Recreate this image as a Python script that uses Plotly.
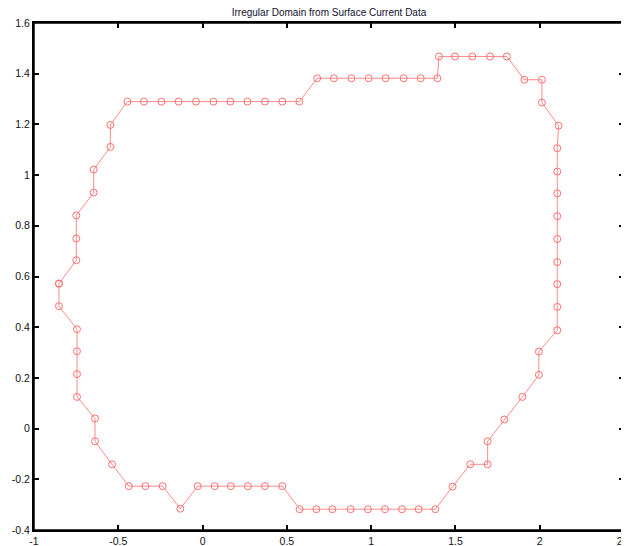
import plotly.graph_objects as go

x_vals = [-0.852, -0.749, -0.749, -0.749, -0.646, -0.646, -0.547, -0.547,
          -0.446, -0.348, -0.244, -0.142, -0.039, 0.064, 0.165, 0.266, 0.370, 0.473, 0.574,
          0.680, 0.779, 0.883, 0.985, 1.086, 1.193, 1.294, 1.393,
          1.402, 1.497, 1.600, 1.705, 1.805,
          1.909, 2.013, 2.013, 2.112,
          2.104, 2.104, 2.104, 2.104, 2.104, 2.104, 2.104, 2.104, 2.104,
          1.995, 1.995, 1.897, 1.790, 1.691, 1.691, 1.588, 1.483,
          1.381, 1.282, 1.183, 1.082, 0.981, 0.878, 0.770, 0.675, 0.576,
          0.473, 0.370, 0.269, 0.168, 0.072, -0.029,
          -0.132, -0.237, -0.339, -0.438, -0.537, -0.638, -0.638,
          -0.745, -0.745, -0.745, -0.745, -0.852, -0.852]
y_vals = [0.572, 0.664, 0.750, 0.841, 0.931, 1.022, 1.111, 1.198,
          1.290, 1.290, 1.290, 1.290, 1.290, 1.290, 1.290, 1.290, 1.290, 1.290, 1.290,
          1.382, 1.382, 1.382, 1.382, 1.382, 1.382, 1.382, 1.382,
          1.468, 1.468, 1.468, 1.468, 1.468,
          1.376, 1.376, 1.286, 1.195,
          1.106, 1.014, 0.928, 0.838, 0.748, 0.657, 0.570, 0.480, 0.388,
          0.304, 0.212, 0.125, 0.036, -0.050, -0.141, -0.141, -0.229,
          -0.318, -0.318, -0.318, -0.318, -0.318, -0.318, -0.318, -0.318, -0.318,
          -0.227, -0.227, -0.227, -0.227, -0.227, -0.227,
          -0.316, -0.227, -0.227, -0.227, -0.141, -0.050, 0.040,
          0.125, 0.215, 0.305, 0.392, 0.483, 0.572]

title_text = "Irregular Domain from Surface Current Data"
x_ticks = [-1, -0.5, 0, 0.5, 1, 1.5, 2, 2.5]
y_ticks = [-0.4, -0.2, 0, 0.2, 0.4, 0.6, 0.8, 1, 1.2, 1.4, 1.6]

fig = go.Figure()
fig.add_trace(go.Scatter(
    x=x_vals, y=y_vals, mode="lines+markers",
    line=dict(color="#ff8a8a", width=1),
    marker=dict(symbol="circle-open", size=7, color="#ff7070", line=dict(width=1)),
    showlegend=False,
))

axis_common = dict(
    showgrid=False, zeroline=False, showline=True, linecolor="rgb(0,0,0)", linewidth=2,
    mirror="allticks", ticks="inside", ticklen=5, tickwidth=2, tickcolor="rgb(0,0,0)",
    automargin=False, ticklabeloverflow="allow",
    tickfont=dict(family="Liberation Sans, Arial, sans-serif", size=10.5, color="#111"),
)

fig.update_layout(
    width=621, height=538,
    margin=dict(l=26, r=5, t=15, b=16),
    paper_bgcolor="white", plot_bgcolor="rgba(255,255,255,0)",
    title=dict(text=title_text, x=0.5, xref="paper", xanchor="center", y=0.998, yanchor="top",
               automargin=False,
               font=dict(family="Liberation Sans, Arial, sans-serif", size=10, color="#101030")),
    xaxis=dict(range=[-1, 2.5], tickvals=x_ticks, ticktext=[str(v) for v in x_ticks], **axis_common),
    yaxis=dict(range=[-0.4, 1.6], tickvals=y_ticks, ticktext=[str(v) for v in y_ticks], **axis_common),
    shapes=[dict(type="rect", xref="paper", yref="paper", x0=0, y0=0, x1=1, y1=1,
                 line=dict(color="rgb(0,0,0)", width=1.5), layer="above")],
)

fig.write_html("out.html")
